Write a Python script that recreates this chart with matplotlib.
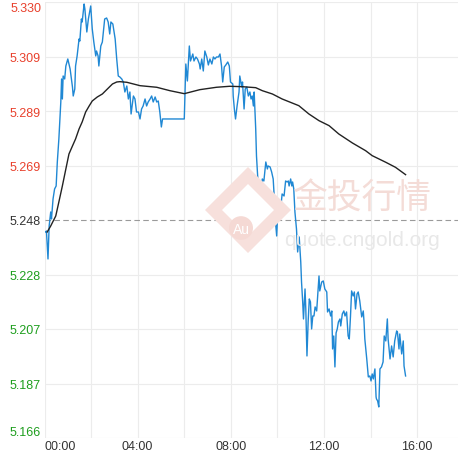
import matplotlib
matplotlib.use("Agg")
import matplotlib.pyplot as plt
from matplotlib.patches import Polygon, Circle
import numpy as np

# ---- data (minutes after 00:00, price) ----
price_t = [3, 5, 9, 12, 16, 18, 22, 26, 30, 33, 37, 42, 44, 46, 48, 52, 55, 60, 66, 72,
           74, 78, 80, 84, 89, 91, 95, 97, 102, 104, 109, 113, 119, 123, 127, 132, 134, 138, 140, 145,
           149, 155, 160, 164, 168, 171, 176, 182, 186, 190, 194, 199, 203, 207, 212, 216, 220, 223, 229, 233,
           237, 242, 246, 250, 254, 259, 263, 267, 272, 276, 280, 285, 289, 293, 297, 301, 304, 360, 364, 368,
           373, 376, 382, 385, 390, 394, 399, 401, 405, 409, 413, 418, 422, 426, 431, 435, 439, 443, 448, 452,
           456, 459, 463, 467, 472, 476, 479, 485, 486, 489, 492, 496, 501, 503, 508, 510, 514, 517, 521, 525,
           529, 532, 535, 538, 540, 544, 546, 549, 552, 557, 561, 565, 570, 574, 576, 581, 585, 589, 592, 595,
           598, 600, 604, 606, 609, 612, 617, 621, 625, 628, 630, 634, 637, 639, 642, 645, 649, 652, 656, 660,
           662, 665, 667, 671, 673, 676, 679, 682, 685, 688, 691, 694, 697, 701, 707, 709, 714, 718, 722, 727,
           729, 733, 737, 740, 742, 745, 748, 751, 754, 757, 761, 763, 767, 771, 774, 778, 782, 785, 788, 791,
           795, 798, 801, 805, 808, 812, 817, 821, 823, 825, 830, 834, 838, 841, 844, 847, 851, 854, 855, 858,
           861, 864, 868, 872, 875, 879, 883, 885, 890, 894, 898, 902, 907, 909, 913, 915, 920, 924, 926, 930]
price_v = [5.24361, 5.24399, 5.23349, 5.24586, 5.25111, 5.24849, 5.25599, 5.25974, 5.26086, 5.26986,
           5.27849, 5.29236, 5.30099, 5.29349, 5.30211, 5.30099, 5.30586, 5.30849, 5.30474, 5.29799,
           5.29461, 5.29724, 5.30586, 5.30961, 5.31599, 5.31524, 5.32349, 5.32236, 5.32911, 5.32724,
           5.31861, 5.32349, 5.32836, 5.31974, 5.31486, 5.30961, 5.31149, 5.30961, 5.30586, 5.31336,
           5.31486, 5.32349, 5.32386, 5.32236, 5.31786, 5.32236, 5.32161, 5.31599, 5.30849, 5.30211,
           5.30174, 5.30099, 5.29986, 5.29611, 5.29836, 5.29349, 5.29611, 5.28786, 5.29461, 5.29349,
           5.28861, 5.28861, 5.28599, 5.28974, 5.29086, 5.29349, 5.29086, 5.29236, 5.29349, 5.29461,
           5.29236, 5.29424, 5.29236, 5.29274, 5.28861, 5.28299, 5.28599, 5.28599, 5.30661, 5.30024,
           5.31336, 5.30774, 5.31036, 5.30774, 5.30924, 5.30849, 5.30661, 5.30474, 5.30849, 5.30399,
           5.31149, 5.30924, 5.30624, 5.30849, 5.30661, 5.30924, 5.30849, 5.30924, 5.30924, 5.31036,
           5.30586, 5.29986, 5.30549, 5.30624, 5.30736, 5.30586, 5.29986, 5.29911, 5.29461, 5.28974,
           5.28599, 5.29086, 5.29611, 5.30211, 5.29799, 5.29986, 5.28974, 5.29724, 5.29799, 5.29461,
           5.29611, 5.29349, 5.29461, 5.29086, 5.29611, 5.28224, 5.27211, 5.26461, 5.25974, 5.25861,
           5.26349, 5.26274, 5.26986, 5.26724, 5.26836, 5.26799, 5.26611, 5.26349, 5.25599, 5.24736,
           5.24211, 5.24849, 5.25336, 5.25149, 5.25336, 5.25786, 5.25711, 5.26274, 5.26236, 5.26274,
           5.26086, 5.26349, 5.26086, 5.26236, 5.25974, 5.25111, 5.24474, 5.23611, 5.24174, 5.23236,
           5.22486, 5.21736, 5.21099, 5.22224, 5.21474, 5.19711, 5.20986, 5.21849, 5.21736, 5.20724,
           5.21211, 5.21211, 5.21549, 5.21399, 5.22711, 5.22149, 5.22486, 5.22524, 5.22224, 5.22111,
           5.21361, 5.21474, 5.21211, 5.21399, 5.19974, 5.20461, 5.19299, 5.20574, 5.20724, 5.20986,
           5.21099, 5.20836, 5.21286, 5.21399, 5.21211, 5.21361, 5.20461, 5.20349, 5.21174, 5.22149,
           5.21961, 5.22111, 5.21474, 5.22036, 5.22111, 5.21774, 5.21174, 5.21399, 5.20986, 5.20349,
           5.19599, 5.18924, 5.18961, 5.18774, 5.19036, 5.18849, 5.19224, 5.18174, 5.18099, 5.18024,
           5.17799, 5.19224, 5.19299, 5.19486, 5.20461, 5.20274, 5.21099, 5.20349, 5.19599, 5.20086,
           5.19674, 5.20274, 5.20649, 5.20611, 5.19974, 5.20536, 5.19786, 5.20274, 5.19336, 5.18961]

avg_t = [7, 16, 29, 37, 46, 55, 63, 72, 80, 89, 97, 106, 115, 123, 136, 149, 162, 175, 186, 194,
         212, 246, 289, 323, 360, 400, 443, 477, 509, 544, 561, 587, 612, 655, 681, 707, 733, 758,
         793, 827, 844, 879, 904, 930]
avg_v = [5.24361, 5.24586, 5.24961, 5.25486, 5.26086, 5.26724, 5.27286, 5.27586, 5.27849, 5.28224,
         5.28486, 5.28861, 5.29086, 5.29274, 5.29424, 5.29536, 5.29724, 5.29911, 5.29986, 5.29998,
         5.29975, 5.29848, 5.29788, 5.29660, 5.29548, 5.29698, 5.29788, 5.29825, 5.29810, 5.29773,
         5.29660, 5.29536, 5.29349, 5.29098, 5.28786, 5.28535, 5.28348, 5.28036, 5.27699, 5.27410,
         5.27223, 5.26975, 5.26786, 5.26511]

prev_close = 5.2481
tick_step = 0.02044
x_tick_labels = ["00:00", "04:00", "08:00", "12:00", "16:00"]

# ---- figure ----
W, H = 459, 452
fig = plt.figure(figsize=(W / 100, H / 100), dpi=100)
fig.patch.set_facecolor("white")

L, R, T, B = 44.5, 458, 3, 439
ax = fig.add_axes([L / W, 1 - B / H, (R - L) / W, (B - T) / H])
ax.set_facecolor("none")

yticks = [prev_close + k * tick_step for k in range(-4, 5)]
ax.set_ylim(yticks[0], yticks[-1])
ax.set_xlim(0, 1065)

for s in ax.spines.values():
    s.set_visible(False)

# grid
grid_c = "#ececec"
for yv in yticks:
    if abs(yv - prev_close) < 1e-9:
        continue
    ax.axhline(yv, color=grid_c, lw=0.8, zorder=0)
for xv in range(0, 1065, 120):
    ax.axvline(xv, color=grid_c, lw=0.8, zorder=0)
ax.axhline(prev_close, color="#9a9a9a", lw=0.8, ls=(0, (5, 3)), zorder=1)

# ---- watermark ----
def fx(px):
    return px / W
def fy(py):
    return 1 - py / H

outer = Polygon([(fx(248), fy(168)), (fx(291), fy(211)), (fx(248), fy(254)), (fx(205), fy(211))],
                closed=True, transform=fig.transFigure, facecolor="#f7e0dc", edgecolor="none", zorder=0)
inner = Polygon([(fx(248), fy(185)), (fx(274), fy(211)), (fx(248), fy(237)), (fx(222), fy(211))],
                closed=True, transform=fig.transFigure, facecolor="white", edgecolor="none", zorder=0)
fig.patches.extend([outer, inner])
heart = Circle((fx(241), fy(229)), 12 / W, transform=fig.transFigure, facecolor="#f5d9d4",
               edgecolor="none", zorder=0)
fig.patches.append(heart)
fig.text(fx(241), fy(230), "Au", color="white", fontsize=10, ha="center", va="center",
         family=["Liberation Sans", "DejaVu Sans"])
fig.text(fx(362), fy(199), "金投行情", color="#f4dcd7", fontsize=25, ha="center", va="center",
         family=["Noto Sans CJK SC", "DejaVu Sans"])
fig.text(fx(362), fy(240), "quote.cngold.org", color="#e8e8e8", fontsize=15, ha="center",
         va="center", family=["Liberation Sans", "DejaVu Sans"])

# ---- lines ----
ax.plot(price_t, price_v, color="#2088d4", lw=1.0, zorder=3)
ax.plot(avg_t, avg_v, color="#222222", lw=1.0, zorder=4)

# ---- ticks ----
ax.set_yticks(yticks)
ax.set_yticklabels([f"{v:.3f}" for v in yticks])
ax.tick_params(axis="y", length=0, pad=2.5, labelsize=9)
ylabs = ax.get_yticklabels()
for v, lab in zip(yticks, ylabs):
    lab.set_family(["Liberation Sans", "DejaVu Sans"])
    if v > prev_close + 1e-9:
        lab.set_color("#e8402c")
    elif v < prev_close - 1e-9:
        lab.set_color("#1e9e1e")
    else:
        lab.set_color("#333333")
ylabs[-1].set_va("top")
ylabs[0].set_va("bottom")

ax.set_xticks([0, 240, 480, 720, 960])
ax.set_xticklabels(x_tick_labels)
ax.tick_params(axis="x", length=0, pad=1.5, labelsize=9, labelcolor="#333333")
for i, lab in enumerate(ax.get_xticklabels()):
    lab.set_family(["Liberation Sans", "DejaVu Sans"])
    if i == 0:
        lab.set_ha("left")

fig.savefig("out.png", dpi=100, facecolor="white")
